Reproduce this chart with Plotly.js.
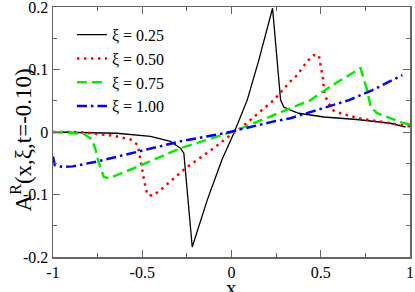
<!DOCTYPE html>
<html>
<head>
<meta charset="utf-8">
<script src="https://cdn.plot.ly/plotly-3.0.1.min.js"></script>
<style>html,body{margin:0;padding:0;background:#fff;}</style>
</head>
<body>
<div id="chart" style="width:415px;height:292px"></div>
<script>
var seriesNames = ["ξ = 0.25", "ξ = 0.50", "ξ = 0.75", "ξ = 1.00"];

var x025 = [-1, -0.8, -0.643, -0.454, -0.342, -0.286, -0.267, -0.22, -0.136, -0.053, 0.013, 0.088, 0.153, 0.23, 0.255, 0.275, 0.293, 0.33, 0.377, 0.517, 0.703, 0.89, 0.975];
var y025 = [0, -0.001, -0.002, -0.007, -0.015, -0.026, -0.034, -0.184, -0.109, -0.044, -0.002, 0.051, 0.115, 0.198, 0.115, 0.051, 0.04, 0.035, 0.03, 0.024, 0.02, 0.014, 0.008];

var x050 = [-1, -0.85, -0.66, -0.566, -0.525, -0.51, -0.5, -0.492, -0.482, -0.472, -0.444, -0.407, -0.37, -0.333, -0.295, -0.258, -0.18, -0.1, -0.025, 0.05, 0.162, 0.237, 0.33, 0.368, 0.424, 0.461, 0.489, 0.499, 0.508, 0.514, 0.517, 0.536, 0.573, 0.62, 0.713, 0.807, 0.946, 1.0];
var y050 = [0, 0, -0.006, -0.012, -0.021, -0.047, -0.06, -0.074, -0.087, -0.1, -0.102, -0.095, -0.086, -0.077, -0.067, -0.058, -0.042, -0.026, -0.009, 0.006, 0.033, 0.051, 0.081, 0.091, 0.113, 0.123, 0.123, 0.109, 0.095, 0.083, 0.067, 0.049, 0.034, 0.029, 0.022, 0.018, 0.011, 0.009];

var x075 = [-1, -0.827, -0.78, -0.762, -0.743, -0.715, -0.687, -0.547, -0.286, 0.013, 0.33, 0.443, 0.555, 0.723, 0.76, 0.78, 0.816, 0.89, 0.956, 1.0];
var y075 = [0, -0.003, -0.012, -0.028, -0.05, -0.072, -0.074, -0.058, -0.026, 0.001, 0.038, 0.051, 0.073, 0.102, 0.067, 0.04, 0.03, 0.022, 0.015, 0.012];

var x100 = [-1, -0.99, -0.947, -0.89, -0.75, -0.515, -0.286, -0.04, 0.237, 0.33, 0.517, 0.658, 0.79, 0.957];
var y100 = [-0.039, -0.053, -0.056, -0.055, -0.047, -0.031, -0.015, -0.002, 0.017, 0.022, 0.038, 0.051, 0.067, 0.091];

var xTicks = [-1, -0.5, 0, 0.5, 1];
var xTickLabels = ["-1", "-0.5", "0", "0.5", "1"];
var yTicks = [-0.2, -0.1, 0, 0.1, 0.2];
var yTickLabels = ["-0.2", "-0.1", "0", "0.1", "0.2"];

var FAM = "Liberation Serif";
var FAM_TICK = "Times New Roman, Liberation Serif, serif";

var traces = [
  {x: x025, y: y025, name: seriesNames[0], mode: "lines", line: {color: "#000000", width: 1.3}},
  {x: x050, y: y050, name: seriesNames[1], mode: "lines", line: {color: "#ff0000", width: 2.5, dash: "2.5px,4.5px"}},
  {x: x075, y: y075, name: seriesNames[2], mode: "lines", line: {color: "#00ee00", width: 2.5, dash: "10px,5px"}},
  {x: x100, y: y100, name: seriesNames[3], mode: "lines", line: {color: "#0000ff", width: 2.5, dash: "10px,4px,2.5px,4px"}}
];

function axis(range, vals, text, minorStep) {
  return {
    range: range, tickmode: "array", tickvals: vals, ticktext: text,
    showgrid: false, zeroline: false, showline: true, linecolor: "#666666", linewidth: 1.5,
    mirror: "allticks", ticks: "inside", ticklen: 7, tickwidth: 1, tickcolor: "#666666",
    ticklabeloverflow: "allow",
    tickfont: {family: FAM_TICK, size: 16, color: "#000", weight: "normal", style: "normal", variant: "normal"},
    minor: {ticks: "inside", ticklen: 4, tickcolor: "#666666", tickwidth: 1, dtick: minorStep, tick0: 0}
  };
}

var layout = {
  width: 415, height: 292,
  margin: {l: 53, r: 5, t: 7, b: 35},
  paper_bgcolor: "#fff", plot_bgcolor: "#fff",
  font: {family: FAM, size: 16, color: "#000"},
  showlegend: true,
  legend: {x: 0.053, y: 0.957, xanchor: "left", yanchor: "top", bgcolor: "rgba(0,0,0,0)",
           font: {size: 16, color: "#000"}, tracegroupgap: 0, itemwidth: 30},
  xaxis: axis([-1, 1], xTicks, xTickLabels, 0.25),
  yaxis: axis([-0.2, 0.2], yTicks, yTickLabels, 0.05),
  annotations: [
    {text: "A<sup>R</sup>(x,ξ,t=-0.10)", xref: "paper", yref: "paper", x: -0.087, y: 0.47,
     xanchor: "center", yanchor: "middle", textangle: -90, showarrow: false,
     font: {family: FAM, size: 23, color: "#000"}},
    {text: "x", xref: "paper", yref: "paper", x: 0.5, y: -0.125, xanchor: "center", yanchor: "middle",
     showarrow: false, font: {family: FAM, size: 21, color: "#000"}}
  ]
};

Plotly.newPlot("chart", traces, layout, {displayModeBar: false, staticPlot: true});
</script>
</body>
</html>
